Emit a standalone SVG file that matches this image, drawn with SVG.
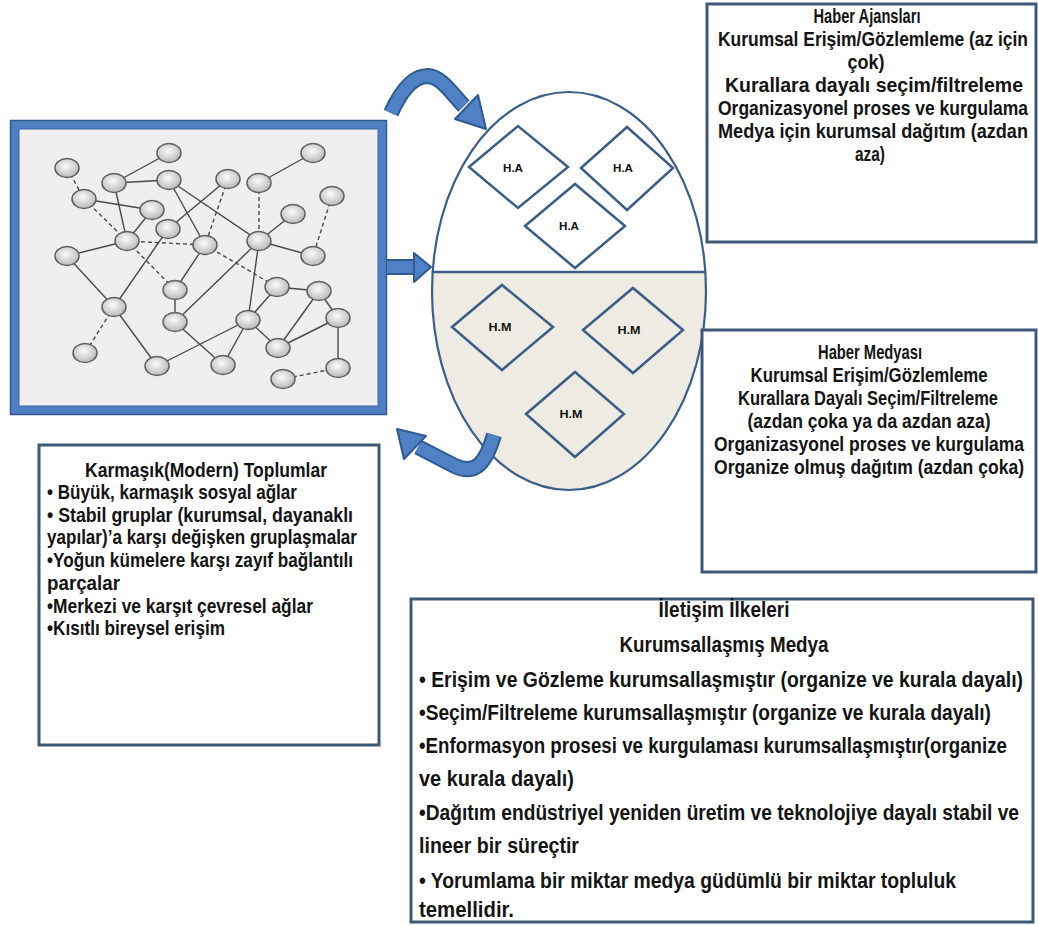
<svg xmlns="http://www.w3.org/2000/svg" width="1038" height="926" viewBox="0 0 1038 926">
<defs>
<radialGradient id="ng" cx="45%" cy="40%" r="60%">
<stop offset="0" stop-color="#fbfbfb"/>
<stop offset="1" stop-color="#b9b9b9"/>
</radialGradient>
<clipPath id="eggclip"><ellipse cx="569" cy="291" rx="137" ry="199"/></clipPath>
<style>
.t{font-family:"Liberation Sans","Noto Sans",Arial,sans-serif;font-weight:bold;fill:#141414;}
.s19{font-size:17.5px;}
.s21{font-size:19px;}
.c{text-anchor:middle;}
.box{fill:#fff;stroke:#3e5878;stroke-width:3;}
.e{stroke:#4a4a4a;stroke-width:1.4;fill:none;}
.d{stroke-dasharray:4 3;}
.nd{fill:url(#ng);stroke:#5f5f5f;stroke-width:1.5;}
.dia{fill:none;stroke:#3b5d88;stroke-width:2.5;}
.dl{font-family:"Liberation Sans",Arial,sans-serif;font-weight:bold;font-size:11px;fill:#111;text-anchor:middle;}
.ab{fill:none;stroke:#2f5a92;stroke-width:16;}
.ai{fill:none;stroke:#4f81c4;stroke-width:12;}
.ah{fill:#4f81c4;stroke:#2f5a92;stroke-width:2;stroke-linejoin:round;}
</style>
</defs>
<rect width="1038" height="926" fill="#fff"/>

<g id="network">
<rect x="14.5" y="124.5" width="368" height="286" fill="#efefef" stroke="#4f7fc0" stroke-width="9"/>
<rect x="10.5" y="120.5" width="376" height="294" fill="none" stroke="#2f5a92" stroke-width="1.5"/>
<rect x="19" y="129" width="359" height="277" fill="none" stroke="#3a68a6" stroke-width="1"/>
<g class="e">
<line x1="169" y1="153" x2="114" y2="183"/>
<line x1="114" y1="183" x2="169" y2="180"/>
<line x1="114" y1="183" x2="127" y2="241"/>
<line x1="84" y1="199" x2="152" y2="210"/>
<line x1="152" y1="210" x2="127" y2="241"/>
<line x1="169" y1="180" x2="205" y2="245"/>
<line x1="169" y1="180" x2="259" y2="241"/>
<line x1="228" y1="179" x2="168" y2="229"/>
<line x1="313" y1="153" x2="259" y2="183"/>
<line x1="259" y1="241" x2="293" y2="214"/>
<line x1="259" y1="241" x2="313" y2="256"/>
<line x1="67" y1="256" x2="127" y2="241"/>
<line x1="168" y1="229" x2="114" y2="307"/>
<line x1="205" y1="245" x2="175" y2="290"/>
<line x1="259" y1="241" x2="175" y2="322"/>
<line x1="259" y1="241" x2="248" y2="320"/>
<line x1="175" y1="290" x2="175" y2="322"/>
<line x1="67" y1="256" x2="114" y2="307"/>
<line x1="114" y1="307" x2="157" y2="366"/>
<line x1="277" y1="287" x2="319" y2="291"/>
<line x1="277" y1="287" x2="248" y2="320"/>
<line x1="319" y1="291" x2="338" y2="318"/>
<line x1="319" y1="291" x2="278" y2="348"/>
<line x1="338" y1="318" x2="278" y2="348"/>
<line x1="338" y1="318" x2="338" y2="368"/>
<line x1="175" y1="322" x2="223" y2="365"/>
<line x1="248" y1="320" x2="157" y2="366"/>
<line x1="248" y1="320" x2="223" y2="365"/>
<line x1="248" y1="320" x2="278" y2="348"/>
</g>
<g class="e d">
<line x1="67" y1="168" x2="84" y2="199"/>
<line x1="84" y1="199" x2="127" y2="241"/>
<line x1="228" y1="179" x2="205" y2="245"/>
<line x1="259" y1="183" x2="259" y2="241"/>
<line x1="332" y1="196" x2="313" y2="256"/>
<line x1="127" y1="241" x2="205" y2="245"/>
<line x1="127" y1="241" x2="175" y2="290"/>
<line x1="205" y1="245" x2="277" y2="287"/>
<line x1="114" y1="307" x2="85" y2="353"/>
<line x1="338" y1="368" x2="283" y2="379"/>
</g>
<g class="nd">
<ellipse cx="67" cy="168" rx="12" ry="9.5"/>
<ellipse cx="169" cy="153" rx="12" ry="9.5"/>
<ellipse cx="114" cy="183" rx="12" ry="9.5"/>
<ellipse cx="169" cy="180" rx="12" ry="9.5"/>
<ellipse cx="228" cy="179" rx="12" ry="9.5"/>
<ellipse cx="259" cy="183" rx="12" ry="9.5"/>
<ellipse cx="313" cy="153" rx="12" ry="9.5"/>
<ellipse cx="332" cy="196" rx="12" ry="9.5"/>
<ellipse cx="84" cy="199" rx="12" ry="9.5"/>
<ellipse cx="152" cy="210" rx="12" ry="9.5"/>
<ellipse cx="168" cy="229" rx="12" ry="9.5"/>
<ellipse cx="127" cy="241" rx="12" ry="9.5"/>
<ellipse cx="205" cy="245" rx="12" ry="9.5"/>
<ellipse cx="259" cy="241" rx="12" ry="9.5"/>
<ellipse cx="293" cy="214" rx="12" ry="9.5"/>
<ellipse cx="313" cy="256" rx="12" ry="9.5"/>
<ellipse cx="67" cy="256" rx="12" ry="9.5"/>
<ellipse cx="175" cy="290" rx="12" ry="9.5"/>
<ellipse cx="277" cy="287" rx="12" ry="9.5"/>
<ellipse cx="319" cy="291" rx="12" ry="9.5"/>
<ellipse cx="114" cy="307" rx="12" ry="9.5"/>
<ellipse cx="175" cy="322" rx="12" ry="9.5"/>
<ellipse cx="248" cy="320" rx="12" ry="9.5"/>
<ellipse cx="338" cy="318" rx="12" ry="9.5"/>
<ellipse cx="85" cy="353" rx="12" ry="9.5"/>
<ellipse cx="157" cy="366" rx="12" ry="9.5"/>
<ellipse cx="223" cy="365" rx="12" ry="9.5"/>
<ellipse cx="278" cy="348" rx="12" ry="9.5"/>
<ellipse cx="338" cy="368" rx="12" ry="9.5"/>
<ellipse cx="283" cy="379" rx="12" ry="9.5"/>
</g>
</g>

<g id="egg">
<ellipse cx="569" cy="291" rx="137" ry="199" fill="#fff"/>
<rect x="430" y="272" width="280" height="222" fill="#eeebe2" clip-path="url(#eggclip)"/>
<ellipse cx="569" cy="291" rx="137" ry="199" fill="none" stroke="#3b5d88" stroke-width="2.2"/>
<line x1="433" y1="272" x2="705" y2="272" stroke="#3b5d88" stroke-width="2.5"/>
</g>

<g id="ha1"><polygon class="dia" points="469,167 518,126 568,167 518,208"/><text class="dl" x="513" y="172" textLength="20" lengthAdjust="spacingAndGlyphs">H.A</text></g>
<g id="ha2"><polygon class="dia" points="581,168 627,127 673,168 627,210"/><text class="dl" x="623" y="172" textLength="20" lengthAdjust="spacingAndGlyphs">H.A</text></g>
<g id="ha3"><polygon class="dia" points="525,226 575,184 625,226 575,268"/><text class="dl" x="569" y="230" textLength="20" lengthAdjust="spacingAndGlyphs">H.A</text></g>
<g id="hm1"><polygon class="dia" points="452,327 502,285 553,327 502,370"/><text class="dl" x="500" y="331" textLength="23" lengthAdjust="spacingAndGlyphs">H.M</text></g>
<g id="hm2"><polygon class="dia" points="583,330 633,288 683,330 633,373"/><text class="dl" x="629" y="334" textLength="23" lengthAdjust="spacingAndGlyphs">H.M</text></g>
<g id="hm3"><polygon class="dia" points="526,414 575,372 624,414 575,457"/><text class="dl" x="571" y="418" textLength="23" lengthAdjust="spacingAndGlyphs">H.M</text></g>

<g id="ajanslar">
<rect class="box" x="707" y="4" width="329" height="238"/>
<g class="t s19 c">
<text transform="translate(867,23) scale(1,1.13)" textLength="107" lengthAdjust="spacingAndGlyphs">Haber Ajansları</text>
<text transform="translate(873,46) scale(1,1.13)" textLength="310" lengthAdjust="spacingAndGlyphs">Kurumsal Erişim/Gözlemleme (az için</text>
<text transform="translate(866,69) scale(1,1.13)" textLength="37" lengthAdjust="spacingAndGlyphs">çok)</text>
<text transform="translate(874,92) scale(1,1.13)" textLength="298" lengthAdjust="spacingAndGlyphs">Kurallara dayalı seçim/filtreleme</text>
<text transform="translate(873,115) scale(1,1.13)" textLength="310" lengthAdjust="spacingAndGlyphs">Organizasyonel proses ve kurgulama</text>
<text transform="translate(873,138) scale(1,1.13)" textLength="310" lengthAdjust="spacingAndGlyphs">Medya için kurumsal dağıtım (azdan</text>
<text transform="translate(870,161) scale(1,1.13)" textLength="30" lengthAdjust="spacingAndGlyphs">aza)</text>
</g>
</g>

<g id="medyasi">
<rect class="box" x="702" y="330" width="334" height="242"/>
<g class="t s19 c">
<text transform="translate(870,359) scale(1,1.13)" textLength="104" lengthAdjust="spacingAndGlyphs">Haber Medyası</text>
<text transform="translate(869,382) scale(1,1.13)" textLength="237" lengthAdjust="spacingAndGlyphs">Kurumsal Erişim/Gözlemleme</text>
<text transform="translate(868,405) scale(1,1.13)" textLength="260" lengthAdjust="spacingAndGlyphs">Kurallara Dayalı Seçim/Filtreleme</text>
<text transform="translate(869,428) scale(1,1.13)" textLength="243" lengthAdjust="spacingAndGlyphs">(azdan çoka ya da azdan aza)</text>
<text transform="translate(869,451) scale(1,1.13)" textLength="310" lengthAdjust="spacingAndGlyphs">Organizasyonel proses ve kurgulama</text>
<text transform="translate(869,474) scale(1,1.13)" textLength="310" lengthAdjust="spacingAndGlyphs">Organize olmuş dağıtım (azdan çoka)</text>
</g>
</g>

<g id="karmasik">
<rect class="box" x="39" y="445" width="340" height="300"/>
<g class="t s19">
<text class="c" transform="translate(206,477) scale(1,1.13)" textLength="242" lengthAdjust="spacingAndGlyphs">Karmaşık(Modern) Toplumlar</text>
<text transform="translate(47,499) scale(1,1.13)" textLength="250" lengthAdjust="spacingAndGlyphs">• Büyük, karmaşık sosyal ağlar</text>
<text transform="translate(47,522) scale(1,1.13)" textLength="306" lengthAdjust="spacingAndGlyphs">• Stabil gruplar (kurumsal, dayanaklı</text>
<text transform="translate(47,544) scale(1,1.13)" textLength="310" lengthAdjust="spacingAndGlyphs">yapılar)’a karşı değişken gruplaşmalar</text>
<text transform="translate(47,567) scale(1,1.13)" textLength="306" lengthAdjust="spacingAndGlyphs">•Yoğun kümelere karşı zayıf bağlantılı</text>
<text transform="translate(47,590) scale(1,1.13)" textLength="73" lengthAdjust="spacingAndGlyphs">parçalar</text>
<text transform="translate(47,613) scale(1,1.13)" textLength="266" lengthAdjust="spacingAndGlyphs">•Merkezi ve karşıt çevresel ağlar</text>
<text transform="translate(47,635) scale(1,1.13)" textLength="178" lengthAdjust="spacingAndGlyphs">•Kısıtlı bireysel erişim</text>
</g>
</g>

<g id="iletisim">
<rect class="box" x="411" y="599" width="622" height="323"/>
<g class="t s21">
<text class="c" transform="translate(724,617) scale(1,1.15)" textLength="131" lengthAdjust="spacingAndGlyphs">İletişim İlkeleri</text>
<text class="c" transform="translate(724,652) scale(1,1.15)" textLength="209" lengthAdjust="spacingAndGlyphs">Kurumsallaşmış Medya</text>
<text transform="translate(419,687) scale(1,1.15)" textLength="604" lengthAdjust="spacingAndGlyphs">• Erişim ve Gözleme kurumsallaşmıştır (organize ve kurala dayalı)</text>
<text transform="translate(419,720) scale(1,1.15)" textLength="572" lengthAdjust="spacingAndGlyphs">•Seçim/Filtreleme kurumsallaşmıştır (organize ve kurala dayalı)</text>
<text transform="translate(419,753) scale(1,1.15)" textLength="588" lengthAdjust="spacingAndGlyphs">•Enformasyon prosesi ve kurgulaması kurumsallaşmıştır(organize</text>
<text transform="translate(419,786) scale(1,1.15)" textLength="155" lengthAdjust="spacingAndGlyphs">ve kurala dayalı)</text>
<text transform="translate(419,820) scale(1,1.15)" textLength="600" lengthAdjust="spacingAndGlyphs">•Dağıtım endüstriyel yeniden üretim ve teknolojiye dayalı stabil ve</text>
<text transform="translate(419,853) scale(1,1.15)" textLength="160" lengthAdjust="spacingAndGlyphs">lineer bir süreçtir</text>
<text transform="translate(419,888) scale(1,1.15)" textLength="537" lengthAdjust="spacingAndGlyphs">• Yorumlama bir miktar medya güdümlü bir miktar topluluk</text>
<text transform="translate(419,917) scale(1,1.15)" textLength="95" lengthAdjust="spacingAndGlyphs">temellidir.</text>
</g>
</g>

<g id="connectors">
<path class="ab" d="M391 113 C400 93 412 76 428 76 C442 77 452 94 464 106"/>
<path class="ai" d="M391 113 C400 93 412 76 428 76 C442 77 452 94 464 106"/>
<polygon class="ah" points="478,95 455,119 486,129"/>
<path class="ab" d="M387 267 L416 267"/>
<path class="ai" d="M387 267 L416 267"/>
<polygon class="ah" points="414,253 414,282 431,267"/>
<path class="ab" d="M494 435 C486 462 476 476 455 466 L418 447"/>
<path class="ai" d="M494 435 C486 462 476 476 455 466 L418 447"/>
<polygon class="ah" points="426,436 404,459 397,429"/>
</g>
</svg>
